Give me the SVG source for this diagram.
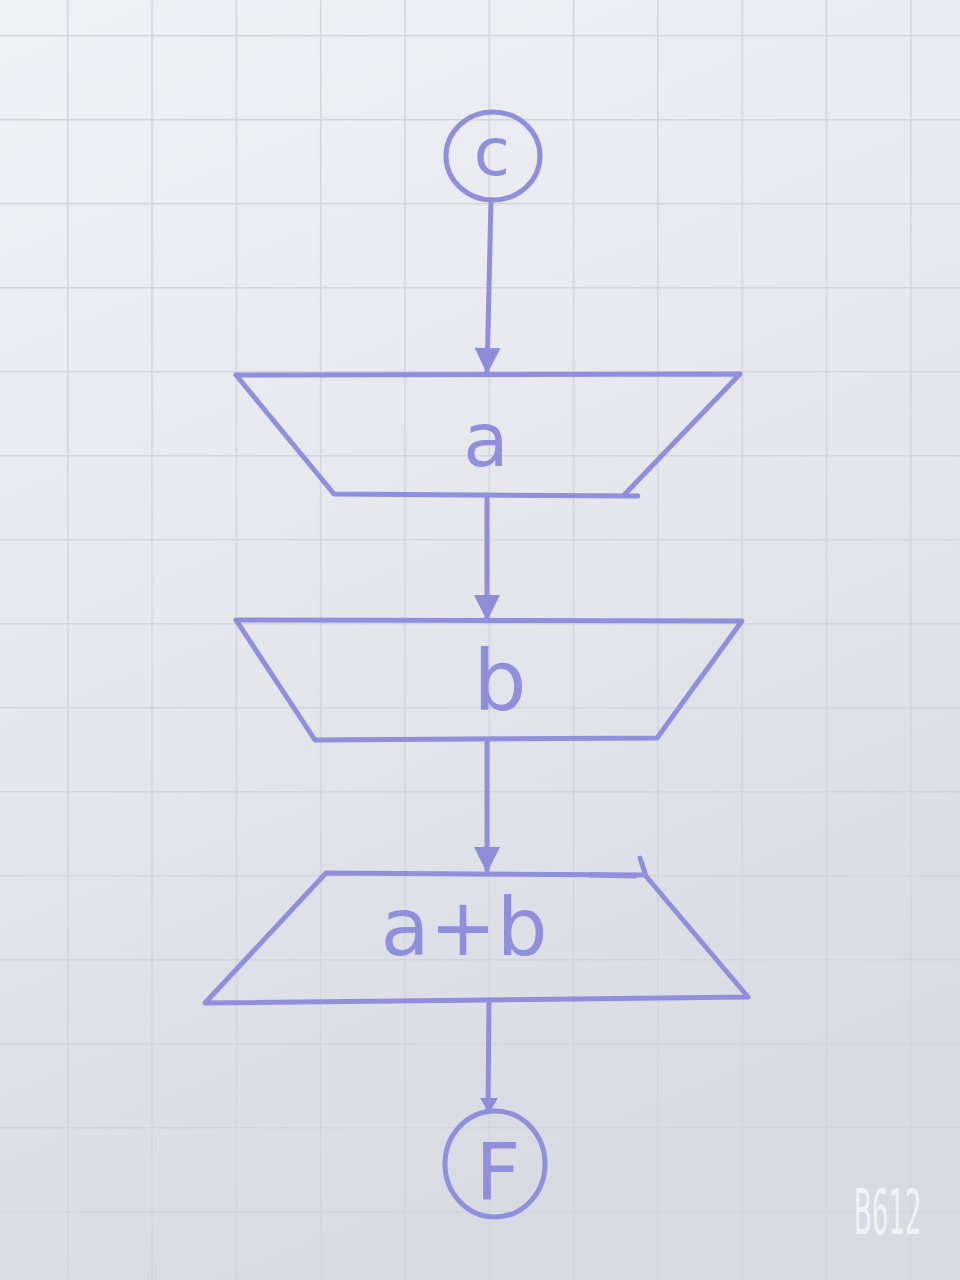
<svg xmlns="http://www.w3.org/2000/svg" width="960" height="1280" viewBox="0 0 960 1280">
  <defs>
    <linearGradient id="paper" x1="0" y1="0" x2="0.3" y2="1">
      <stop offset="0" stop-color="#eff1f5"/>
      <stop offset="0.5" stop-color="#e6e8ee"/>
      <stop offset="1" stop-color="#d9dbe3"/>
    </linearGradient>
    <pattern id="grid" x="67" y="35" width="84.3" height="84" patternUnits="userSpaceOnUse">
      <path d="M0 0 V84 M0 0 H84.3" fill="none" stroke="#d3d5de" stroke-width="3"/>
    </pattern>
    <marker id="arrow" viewBox="0 0 30 30" refX="28" refY="15" markerWidth="30" markerHeight="30" markerUnits="userSpaceOnUse" orient="auto">
      <path d="M2 2 L28 15 L2 28 Z" fill="#8d8dd8"/>
    </marker>
    <style>
      .ink { fill: none; stroke: #8f8fdb; stroke-width: 5; stroke-linecap: round; stroke-linejoin: round; }
      .lbl { font-family: "DejaVu Sans", "Liberation Sans", sans-serif; fill: #8f8fdb; text-anchor: middle; font-weight: normal; }
      .wm { font-family: "DejaVu Sans", "Liberation Sans", sans-serif; fill: #f5f5f9; fill-opacity: 0.9; }
    </style>
  </defs>

  <rect x="0" y="0" width="960" height="1280" fill="url(#paper)"/>
  <rect x="0" y="0" width="960" height="1280" fill="url(#grid)"/>

  <g id="connectors">
    <path class="ink" d="M491 200 L487 374" marker-end="url(#arrow)"/>
    <path class="ink" d="M487 495 L487 621" marker-end="url(#arrow)"/>
    <path class="ink" d="M487 740 L487 873" marker-end="url(#arrow)"/>
    <path class="ink" d="M489 1000 L488 1110"/>
    <path d="M480 1098 L498 1098 L489 1113 Z" fill="#8d8dd8"/>
  </g>

  <g id="start">
    <ellipse class="ink" cx="493" cy="156" rx="47" ry="44"/>
    <text class="lbl" x="492" y="175" font-size="66">c</text>
  </g>

  <g id="input-a">
    <path class="ink" d="M236 375 L740 374 L625 494 M638 496 L334 494 L236 375"/>
    <text class="lbl" x="486" y="466" font-size="74">a</text>
  </g>

  <g id="input-b">
    <path class="ink" d="M236 620 L742 621 L657 738 L315 740 Z"/>
    <text class="lbl" x="500" y="710" font-size="84">b</text>
  </g>

  <g id="output-sum">
    <path class="ink" d="M326 873 L645 875 L748 997 L205 1003 Z"/>
    <path class="ink" d="M640 858 L646 876"/>
    <path class="ink" d="M590 875 L635 876"/>
    <text class="lbl" x="464" y="955" font-size="80">a+b</text>
  </g>

  <g id="end">
    <ellipse class="ink" cx="495" cy="1164" rx="50" ry="53"/>
    <text class="lbl" x="498" y="1199" font-size="78">F</text>
  </g>

  <g id="watermark" transform="translate(854 1234) scale(0.42 1)">
    <text class="wm" x="0" y="0" font-size="62">B612</text>
  </g>
</svg>
